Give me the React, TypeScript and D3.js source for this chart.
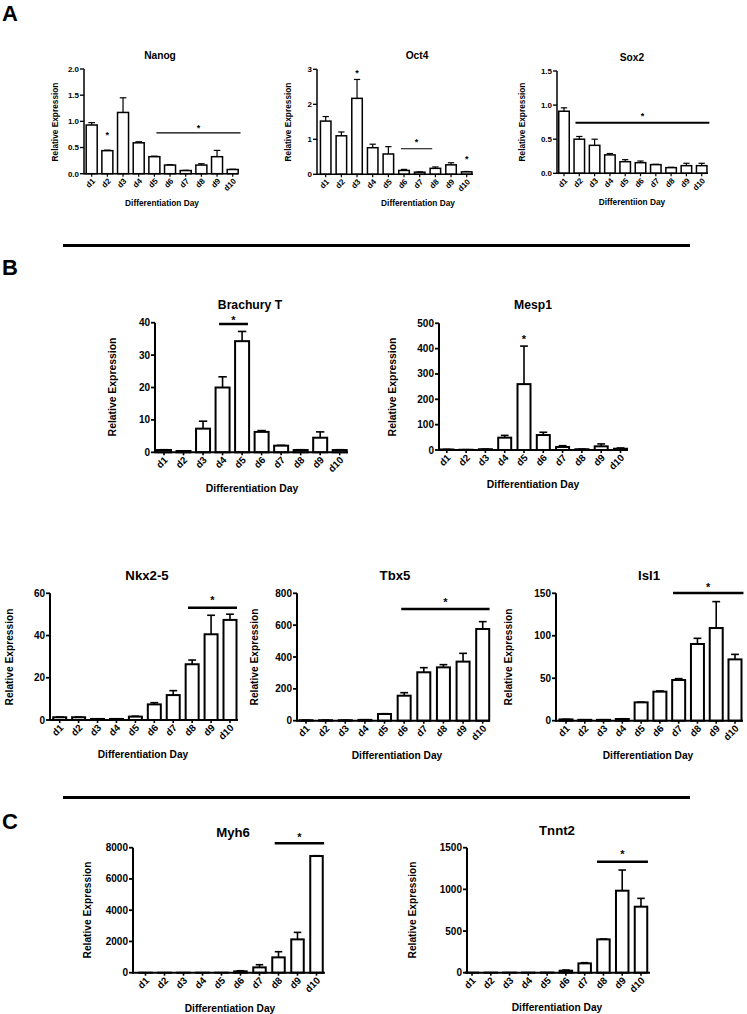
import React from 'react';
import * as d3 from 'd3';

// ---------- DATA ----------
const days = ['d1', 'd2', 'd3', 'd4', 'd5', 'd6', 'd7', 'd8', 'd9', 'd10'];

const nanogMean = [0.93, 0.44, 1.17, 0.59, 0.325, 0.165, 0.06, 0.165, 0.325, 0.08];
const nanogErr = [0.045, 0.01, 0.28, 0.02, 0.01, 0.008, 0.005, 0.025, 0.12, 0.005];
const nanogTicks = [0, 0.5, 1.0, 1.5, 2.0];

const oct4Mean = [1.52, 1.1, 2.17, 0.76, 0.58, 0.11, 0.06, 0.17, 0.27, 0.07];
const oct4Err = [0.13, 0.11, 0.54, 0.1, 0.21, 0.03, 0.01, 0.04, 0.06, 0.01];
const oct4Ticks = [0, 1, 2, 3];

const sox2Mean = [0.91, 0.5, 0.41, 0.27, 0.17, 0.156, 0.127, 0.083, 0.112, 0.112];
const sox2Err = [0.05, 0.04, 0.09, 0.02, 0.03, 0.024, 0.005, 0.005, 0.035, 0.035];
const sox2Ticks = [0, 0.5, 1.0, 1.5];

const brachMean = [0.7, 0.4, 7.3, 20.0, 34.3, 6.3, 2.05, 0.7, 4.5, 0.7];
const brachErr = [0.1, 0.05, 2.3, 3.3, 3.0, 0.4, 0.1, 0.1, 1.8, 0.1];
const brachTicks = [0, 10, 20, 30, 40];

const mesp1Mean = [2, 1, 3, 48.7, 260, 59, 12, 3, 14.5, 5];
const mesp1Err = [0.5, 0.3, 0.5, 9, 150, 11, 5, 0.5, 9.5, 3];
const mesp1Ticks = [0, 100, 200, 300, 400, 500];

const nkxMean = [1.3, 1.3, 0.5, 0.5, 1.6, 7.4, 11.8, 26.4, 40.6, 47.4];
const nkxErr = [0.1, 0.1, 0.05, 0.05, 0.2, 0.8, 2.1, 2.0, 9.0, 2.7];
const nkxTicks = [0, 20, 40, 60];

const tbx5Mean = [3, 3, 3, 5, 42, 157, 304, 335, 371, 576];
const tbx5Err = [0.5, 0.5, 0.5, 1, 2, 19, 29, 17, 52, 46];
const tbx5Ticks = [0, 200, 400, 600, 800];

const isl1Mean = [1.5, 1, 1, 2, 21.6, 34.2, 47.9, 90.3, 109.1, 72.2];
const isl1Err = [0.2, 0.1, 0.1, 0.3, 0.3, 0.8, 1.6, 6.7, 31.1, 5.9];
const isl1Ticks = [0, 50, 100, 150];

const myh6Mean = [1, 1, 1, 1, 2, 85, 341, 981, 2133, 7467];
const myh6Err = [0, 0, 0, 0, 0, 40, 170, 363, 448, 21];
const myh6Ticks = [0, 2000, 4000, 6000, 8000];

const tnnt2Mean = [1, 1, 1, 1, 2, 24, 112, 400, 984, 792];
const tnnt2Err = [0, 0, 0, 0, 0, 8, 8, 4, 248, 100];
const tnnt2Ticks = [0, 500, 1000, 1500];

// significance marks: single star {t, v}; bracket line {t0, t1, v, sv}
type Sig = { t: number; v: number } | { t0: number; t1: number; v: number; sv: number };
const nanogSig: Sig[] = [{ t: 1, v: 0.78 }, { t0: 4.13, t1: 9.5, v: 0.78, sv: 0.91 }];
const oct4Sig: Sig[] = [{ t: 2, v: 2.96 }, { t0: 4.8, t1: 6.8, v: 0.73, sv: 1.0 }, { t: 9, v: 0.49 }];
const sox2Sig: Sig[] = [{ t0: 0.75, t1: 9.5, v: 0.74, sv: 0.88 }];
const brachSig: Sig[] = [{ t0: 2.82, t1: 4.3, v: 39.6, sv: 41.7 }];
const mesp1Sig: Sig[] = [{ t: 4, v: 446 }];
const nkxSig: Sig[] = [{ t0: 6.78, t1: 9.37, v: 53.2, sv: 57.8 }];
const tbx5Sig: Sig[] = [{ t0: 4.85, t1: 9.35, v: 702, sv: 758 }];
const isl1Sig: Sig[] = [{ t0: 5.7, t1: 9.45, v: 150.3, sv: 159.7 }];
const myh6Sig: Sig[] = [{ t0: 6.8, t1: 9.4, v: 8282, sv: 8813 }];
const tnnt2Sig: Sig[] = [{ t0: 6.66, t1: 9.37, v: 1332, sv: 1452 }];

// ---------- LAYOUT ----------
const FONT = '"Liberation Sans", Arial, Helvetica, sans-serif';

interface Fs { title: number; tick: number; xtick: number; label: number; star: number }
interface Sw { axis: number; bar: number; sig: number }
interface Layout {
  ax: number; axEnd: number; c1: number; c10: number; bw: number; yTop: number; y0: number;
  title: [number, number]; ylab: [number, number]; xlab: [number, number]; fs: Fs; sw: Sw;
}

const fsA: Fs = { title: 10.2, tick: 8, xtick: 8, label: 8.3, star: 9 };
const fsB: Fs = { title: 12.2, tick: 10, xtick: 9.8, label: 10.4, star: 11 };
const fsB2: Fs = { title: 13.2, tick: 10, xtick: 9.8, label: 10.2, star: 11 };
const swA: Sw = { axis: 1.5, bar: 1.5, sig: 1.1 };
const swA2: Sw = { axis: 1.5, bar: 1.5, sig: 2 };
const swB: Sw = { axis: 2, bar: 2, sig: 2.5 };

interface ChartProps {
  title: string; xLabel: string; mean: number[]; err: number[]; ticks: number[];
  fmt: (n: number) => string; sigs: Sig[]; L: Layout;
}

function Chart({ title, xLabel, mean, err, ticks, fmt, sigs, L }: ChartProps) {
  const x = d3.scalePoint<string>().domain(days).range([L.c1, L.c10]);
  const idx = d3.scaleLinear().domain([0, days.length - 1]).range([L.c1, L.c10]);
  const y = d3.scaleLinear().domain([0, ticks[ticks.length - 1]]).range([L.y0, L.yTop]);
  const bw = L.bw;
  return (
    <g fontFamily={FONT} fontWeight="bold" fill="#000">
      <text x={L.title[0]} y={L.title[1] + L.fs.title * 0.36} textAnchor="middle" fontSize={L.fs.title}>{title}</text>
      {days.map((d, i) => {
        const cx = x(d)!;
        const top = y(mean[i]);
        return (
          <g key={d}>
            {err[i] > 0 && (
              <g stroke="#000" strokeWidth={L.sw.bar * 0.8}>
                <line x1={cx} x2={cx} y1={top} y2={y(mean[i] + err[i])} />
                <line x1={cx - bw * 0.3} x2={cx + bw * 0.3} y1={y(mean[i] + err[i])} y2={y(mean[i] + err[i])} />
              </g>
            )}
            <rect x={cx - bw / 2} y={top} width={bw} height={Math.max(0, L.y0 - top)} fill="#fff" stroke="#000" strokeWidth={L.sw.bar} />
          </g>
        );
      })}
      {/* y axis */}
      <line x1={L.ax} x2={L.ax} y1={L.y0 + L.sw.axis / 2} y2={L.yTop} stroke="#000" strokeWidth={L.sw.axis} />
      {ticks.map((t) => (
        <g key={t}>
          <line x1={L.ax - 4} x2={L.ax} y1={y(t)} y2={y(t)} stroke="#000" strokeWidth={L.sw.axis * 0.9} />
          <text x={L.ax - 5} y={y(t)} dy="0.35em" textAnchor="end" fontSize={L.fs.tick}>{fmt(t)}</text>
        </g>
      ))}
      {/* x axis */}
      <line x1={L.ax} x2={L.axEnd} y1={L.y0} y2={L.y0} stroke="#000" strokeWidth={L.sw.axis} />
      {days.map((d) => (
        <g key={'t' + d}>
          <line x1={x(d)!} x2={x(d)!} y1={L.y0} y2={L.y0 + 3} stroke="#000" strokeWidth={L.sw.axis * 0.8} />
          <text transform={`translate(${x(d)! + 2},${L.y0 + 6}) rotate(-45)`} dy="0.35em" textAnchor="end" fontSize={L.fs.xtick}>{d}</text>
        </g>
      ))}
      <text x={L.xlab[0]} y={L.xlab[1] + L.fs.label * 0.36} textAnchor="middle" fontSize={L.fs.label}>{xLabel}</text>
      <text transform={`translate(${L.ylab[0]},${L.ylab[1]}) rotate(-90)`} dy="0.36em" textAnchor="middle" fontSize={L.fs.label}>Relative Expression</text>
      {sigs.map((s, i) => {
        if ('t' in s) {
          return <text key={'s' + i} x={idx(s.t)} y={y(s.v) + L.fs.star * 0.58} textAnchor="middle" fontSize={L.fs.star}>*</text>;
        }
        const x0 = idx(s.t0), x1 = idx(s.t1);
        return (
          <g key={'s' + i}>
            <line x1={x0} x2={x1} y1={y(s.v)} y2={y(s.v)} stroke="#000" strokeWidth={L.sw.sig} />
            <text x={(x0 + x1) / 2} y={y(s.sv) + L.fs.star * 0.58} textAnchor="middle" fontSize={L.fs.star}>*</text>
          </g>
        );
      })}
    </g>
  );
}

const f1 = d3.format('.1f');
const f0 = d3.format('d');

export default function App() {
  const DD = 'Differentiation Day';
  return (
    <svg width={747} height={1014} style={{ position: 'absolute', left: 0, top: 0, background: '#fff' }}>
      <rect width={747} height={1014} fill="#fff" />
      <g fontFamily={FONT} fontWeight="bold" fontSize={22}>
        <text x={2} y={21}>A</text>
        <text x={2} y={275}>B</text>
        <text x={2} y={829}>C</text>
      </g>
      <line x1={63} x2={690} y1={245.5} y2={245.5} stroke="#000" strokeWidth={3} />
      <line x1={63} x2={690} y1={797.5} y2={797.5} stroke="#000" strokeWidth={3} />

      <Chart title="Nanog" xLabel={DD} mean={nanogMean} err={nanogErr} ticks={nanogTicks} fmt={f1} sigs={nanogSig}
        L={{ ax: 84, axEnd: 238, c1: 91.7, c10: 232.7, bw: 11, yTop: 69, y0: 173.7, title: [160, 55], ylab: [55, 122], xlab: [162, 203], fs: fsA, sw: swA }} />
      <Chart title="Oct4" xLabel={DD} mean={oct4Mean} err={oct4Err} ticks={oct4Ticks} fmt={f0} sigs={oct4Sig}
        L={{ ax: 317, axEnd: 473, c1: 325.7, c10: 466.7, bw: 10.5, yTop: 69.3, y0: 174.3, title: [417, 55], ylab: [288, 122], xlab: [418, 203], fs: fsA, sw: swA }} />
      <Chart title="Sox2" xLabel="Differentiion Day" mean={sox2Mean} err={sox2Err} ticks={sox2Ticks} fmt={f1} sigs={sox2Sig}
        L={{ ax: 557, axEnd: 708, c1: 564, c10: 701.7, bw: 10.5, yTop: 71, y0: 173.3, title: [632, 57], ylab: [522, 122], xlab: [632, 202], fs: fsA, sw: swA2 }} />

      <Chart title="Brachury T" xLabel={DD} mean={brachMean} err={brachErr} ticks={brachTicks} fmt={f0} sigs={brachSig}
        L={{ ax: 155, axEnd: 348, c1: 164, c10: 339.7, bw: 14, yTop: 322.7, y0: 452.3, title: [250, 305], ylab: [112, 387], xlab: [252, 488], fs: fsB, sw: swB }} />
      <Chart title="Mesp1" xLabel={DD} mean={mesp1Mean} err={mesp1Err} ticks={mesp1Ticks} fmt={f0} sigs={mesp1Sig}
        L={{ ax: 439, axEnd: 628, c1: 446.8, c10: 620.5, bw: 13, yTop: 323.3, y0: 450, title: [533, 305], ylab: [392, 387], xlab: [533, 484], fs: fsB, sw: swB }} />

      <Chart title="Nkx2-5" xLabel={DD} mean={nkxMean} err={nkxErr} ticks={nkxTicks} fmt={f0} sigs={nkxSig}
        L={{ ax: 50, axEnd: 238, c1: 59.7, c10: 230, bw: 13, yTop: 593.3, y0: 720, title: [147, 575], ylab: [9, 657], xlab: [143, 754], fs: fsB2, sw: swB }} />
      <Chart title="Tbx5" xLabel={DD} mean={tbx5Mean} err={tbx5Err} ticks={tbx5Ticks} fmt={f0} sigs={tbx5Sig}
        L={{ ax: 297, axEnd: 490, c1: 306, c10: 482.7, bw: 13, yTop: 593.3, y0: 720.7, title: [395, 575], ylab: [254, 657], xlab: [397, 755], fs: fsB2, sw: swB }} />
      <Chart title="Isl1" xLabel={DD} mean={isl1Mean} err={isl1Err} ticks={isl1Ticks} fmt={f0} sigs={isl1Sig}
        L={{ ax: 556, axEnd: 743, c1: 566, c10: 735, bw: 13, yTop: 593.3, y0: 720.7, title: [649, 575], ylab: [508, 657], xlab: [648, 755], fs: fsB2, sw: swB }} />

      <Chart title="Myh6" xLabel={DD} mean={myh6Mean} err={myh6Err} ticks={myh6Ticks} fmt={f0} sigs={myh6Sig}
        L={{ ax: 133, axEnd: 325, c1: 145.5, c10: 316.5, bw: 12.5, yTop: 847.7, y0: 972.7, title: [233, 832], ylab: [87, 910], xlab: [230, 1008], fs: fsB2, sw: swB }} />
      <Chart title="Tnnt2" xLabel={DD} mean={tnnt2Mean} err={tnnt2Err} ticks={tnnt2Ticks} fmt={f0} sigs={tnnt2Sig}
        L={{ ax: 467, axEnd: 650, c1: 472, c10: 641, bw: 12.5, yTop: 847.7, y0: 972.7, title: [557, 830], ylab: [412, 910], xlab: [557, 1007], fs: fsB2, sw: swB }} />
    </svg>
  );
}
